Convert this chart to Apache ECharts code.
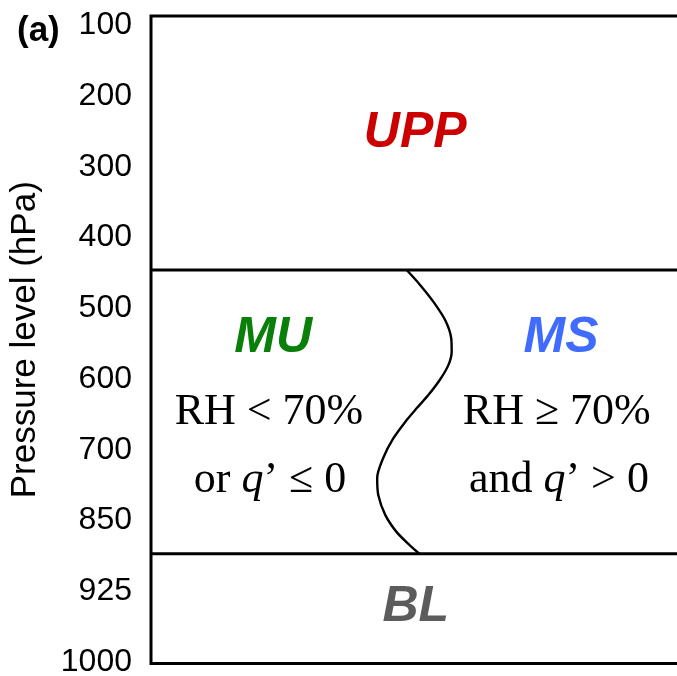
<!DOCTYPE html>
<html>
<head>
<meta charset="utf-8">
<script src="https://cdn.jsdelivr.net/npm/echarts@6/dist/echarts.min.js"></script>
<style>
  html, body { margin: 0; padding: 0; background: #fff; }
  #main { width: 677px; height: 676px; }
</style>
</head>
<body>
<div id="main"></div>
<script>
// pressure levels, evenly spaced on the axis (index 0 = 100 hPa)
var levelLabels = ['100', '200', '300', '400', '500', '600', '700', '850', '925', '1000'];
var levelIndex = [0, 1, 2, 3, 4, 5, 6, 7, 8, 9];

// layer boundaries (in level-index units)
var layerBounds = [3.46, 7.47];

// wavy line between MU and MS (x in % of box width, y in level index)
var curveX = [47.7, 50.2, 52.7, 54.9, 56.0, 56.1, 55.5, 53.9, 51.7, 49.6,
              47.7, 45.2, 43.3, 42.2, 42.4, 43.7, 45.8, 48.3, 50.1];
var curveY = [3.46, 3.67, 3.91, 4.17, 4.42, 4.61, 4.80, 5.01, 5.23, 5.41,
              5.58, 5.84, 6.12, 6.40, 6.64, 6.92, 7.16, 7.35, 7.47];

// region names
var regionNames = ['UPP', 'MU', 'MS', 'BL'];
var regionColors = ['#cc0000', '#0a800a', '#3f6bff', '#5c5c5c'];
var regionX = [49.3, 22.8, 76.5, 49.4];
var regionY = [1.53, 4.42, 4.42, 8.22];

// criteria text
var critText = [
  'RH < 70%', '{t|or }{q|q}{t|’ ≤ 0}',
  'RH ≥ 70%', '{t|and }{q|q}{t|’ > 0}'
];
var critX = [22.0, 22.2, 75.7, 76.1];
var critY = [5.47, 6.43, 5.47, 6.43];

var chart = echarts.init(document.getElementById('main'));

var hLines = layerBounds.map(function (b) {
  return {
    type: 'line',
    data: [[0, b], [100, b]],
    symbol: 'none',
    silent: true,
    lineStyle: { color: '#000', width: 3 }
  };
});

var option = {
  animation: false,
  title: {
    text: '(a)',
    left: 12,
    top: 9,
    textStyle: { fontFamily: 'Liberation Sans', fontSize: 35, fontWeight: 'bold', color: '#000' }
  },
  grid: {
    left: 151,
    right: -10,
    top: 16,
    bottom: 12.5,
    outerBoundsMode: 'none',
    containLabel: false,
    show: true,
    borderColor: '#000',
    borderWidth: 3,
    backgroundColor: 'transparent'
  },
  xAxis: {
    type: 'value',
    min: 0,
    max: 100,
    show: false
  },
  yAxis: {
    type: 'value',
    inverse: true,
    min: -0.13,
    max: 9.02,
    name: 'Pressure level (hPa)',
    nameLocation: 'middle',
    nameRotate: 90,
    nameGap: 108,
    nameTextStyle: { fontFamily: 'Liberation Sans', fontSize: 35, color: '#000' },
    axisLine: { show: false },
    axisTick: { show: false },
    splitLine: { show: false },
    axisLabel: {
      customValues: levelIndex,
      hideOverlap: false,
      showMinLabel: true,
      showMaxLabel: true,
      margin: 19,
      fontFamily: 'Liberation Sans',
      fontSize: 32,
      color: '#000',
      formatter: function (v) { return levelLabels[Math.round(v)]; }
    }
  },
  series: hLines.concat([
    {
      type: 'line',
      data: curveX.map(function (x, i) { return [x, curveY[i]]; }),
      smooth: 0.3,
      symbol: 'none',
      silent: true,
      lineStyle: { color: '#000', width: 2.4 }
    },
    {
      type: 'scatter',
      symbolSize: 0,
      silent: true,
      itemStyle: { opacity: 1 },
      data: regionNames.map(function (n, i) {
        return {
          value: [regionX[i], regionY[i]],
          label: { color: regionColors[i] }
        };
      }),
      label: {
        show: true,
        position: 'inside',
        opacity: 1,
        fontFamily: 'Liberation Sans',
        fontSize: 50,
        fontWeight: 'bold',
        fontStyle: 'italic',
        formatter: function (p) { return regionNames[p.dataIndex]; }
      }
    },
    {
      type: 'scatter',
      symbolSize: 0,
      silent: true,
      itemStyle: { opacity: 1 },
      data: critX.map(function (x, i) { return [x, critY[i]]; }),
      label: {
        show: true,
        position: 'inside',
        opacity: 1,
        fontFamily: 'Liberation Serif',
        fontSize: 44,
        color: '#000',
        formatter: function (p) { return critText[p.dataIndex]; },
        rich: {
          t: { fontFamily: 'Liberation Serif', fontSize: 44, color: '#000' },
          q: { fontFamily: 'Liberation Serif', fontSize: 44, fontStyle: 'italic', color: '#000' }
        }
      }
    }
  ])
};

chart.setOption(option);
</script>
</body>
</html>
